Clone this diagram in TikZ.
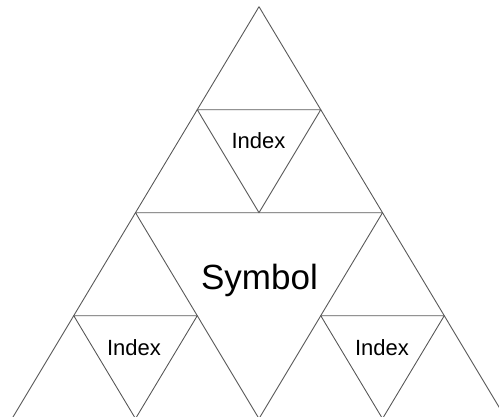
\documentclass[tikz,border=0pt]{standalone}
\usepackage{fontspec}
\setmainfont{Liberation Sans}
\begin{document}
\begin{tikzpicture}[x=1pt, y=-1pt, line join=round, line cap=round]
    % Gaya garis dan teks
    \tikzset{
      edge/.style={draw=black!65, line width=0.9pt},
      idxtext/.style={anchor=base, inner sep=0pt, font=\fontsize{22}{24}\selectfont},
      symtext/.style={anchor=base, inner sep=0pt, font=\fontsize{35}{38}\selectfont}
    }
    \useasboundingbox (0,0) rectangle (499,416);
    \clip (0,0) rectangle (499,416);

    % Ukuran satu tingkat segitiga
    \def\h{103}
    \def\w{61.75}
    \def\cx{259}
    \def\ty{6.7}

    \coordinate (apex) at (\cx,\ty);
    \coordinate (baseL) at ({\cx-4*\w},{\ty+4*\h});
    \coordinate (baseR) at ({\cx+4*\w},{\ty+4*\h});

    % Segitiga luar
    \draw[edge] (apex) -- (baseL) -- (baseR) -- cycle;

    % Segitiga terbalik: pusat/tingkat/ukuran
    \foreach \c/\k/\s in {0/1/1, 0/2/2, -2/3/1, 2/3/1} {
      \draw[edge] ({\cx+(\c-\s)*\w},{\ty+\k*\h}) -- ({\cx+(\c+\s)*\w},{\ty+\k*\h})
        -- ({\cx+\c*\w},{\ty+(\k+\s)*\h}) -- cycle;
    }

    % Label
    \node[idxtext] (idxtop) at (258.5,148.3) {Index};
    \node[symtext] (sym) at (259.5,289) {Symbol};
    \node[idxtext] (idxleft) at (134,355) {Index};
    \node[idxtext] (idxright) at (382,355) {Index};
  \end{tikzpicture}
\end{document}
